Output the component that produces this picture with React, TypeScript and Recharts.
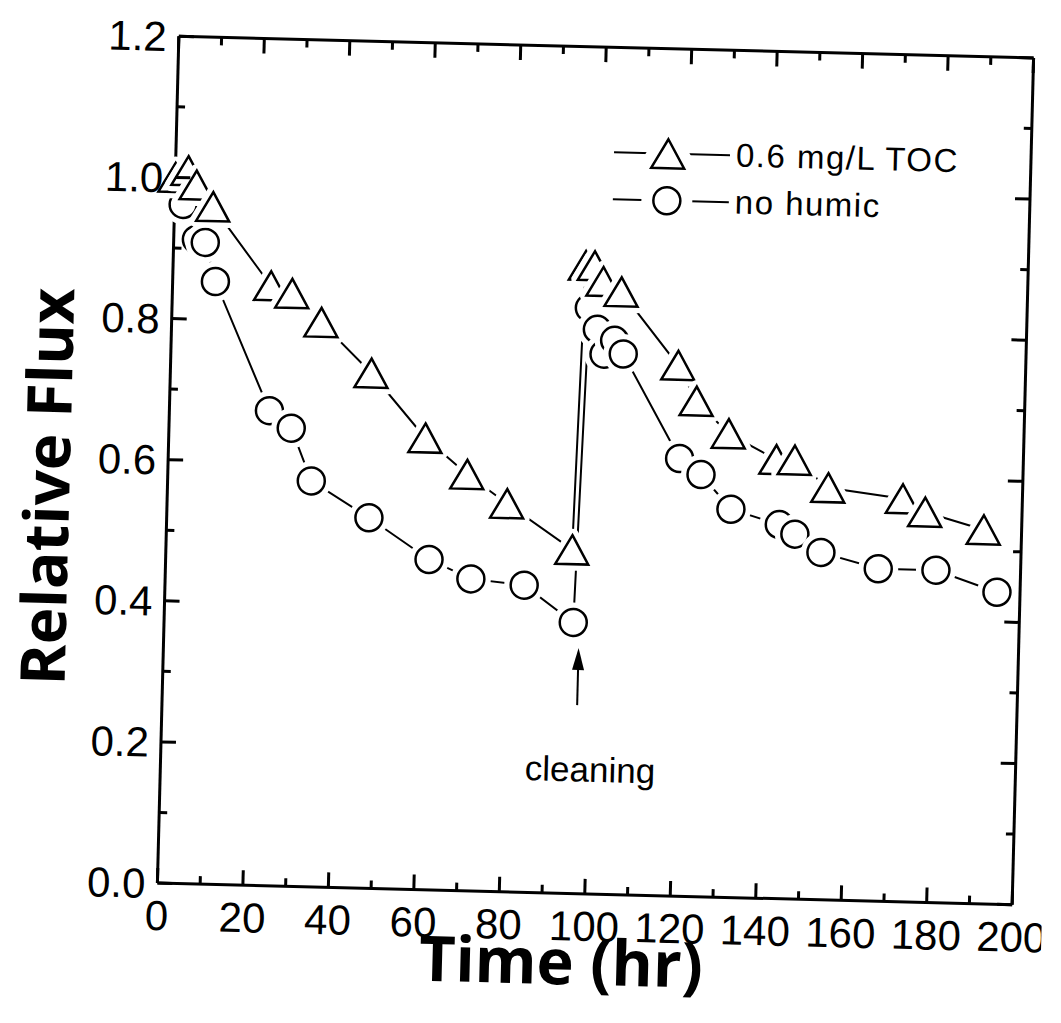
import { LineChart, Line, XAxis, YAxis, Legend, ReferenceLine, ReferenceDot } from "recharts";

// time (hr) and relative flux
const tocHours = [0, 3, 5, 9, 23, 28, 35, 47, 60, 70, 79.5, 95, 96.5, 98.6, 100.7, 105, 118.7, 123.2, 130.9, 142.2, 146.5, 154.5, 172, 177.3, 191.1];
const tocFlux = [1.0, 1.01, 0.99, 0.96, 0.85, 0.84, 0.8, 0.73, 0.64, 0.59, 0.55, 0.487, 0.89, 0.89, 0.868, 0.854, 0.752, 0.702, 0.657, 0.622, 0.622, 0.584, 0.571, 0.553, 0.53];

const noHumicHours = [0, 2, 5.3, 7.4, 10, 23.4, 28.6, 33.6, 47.3, 61.6, 71.5, 84, 95.7, 97.6, 99.6, 101.3, 103.7, 105.8, 119.6, 124.7, 131.9, 143.3, 147, 153.2, 166.7, 180.2, 194.6];
const noHumicFlux = [0.99, 0.962, 0.913, 0.909, 0.854, 0.673, 0.649, 0.575, 0.525, 0.468, 0.442, 0.435, 0.384, 0.83, 0.8, 0.765, 0.785, 0.766, 0.62, 0.598, 0.55, 0.53, 0.517, 0.492, 0.471, 0.471, 0.442];

const seriesNames = ["0.6 mg/L TOC", "no humic"];

const xTicks = [0, 10, 20, 30, 40, 50, 60, 70, 80, 90, 100, 110, 120, 130, 140, 150, 160, 170, 180, 190, 200];
const xLabelTicks = [0, 20, 40, 60, 80, 100, 120, 140, 160, 180, 200];
const yTicks = [0, 0.1, 0.2, 0.3, 0.4, 0.5, 0.6, 0.7, 0.8, 0.9, 1.0, 1.1, 1.2];
const yLabelTicks = [0, 0.2, 0.4, 0.6, 0.8, 1.0, 1.2];

// cleaning arrow (from, to) and its caption, in data units
const cleaningArrow = [
  { t: 97.1, flux: 0.267 },
  { t: 97.1, flux: 0.348 },
];
const cleaningLabel = { t: 100.5, flux: 0.176, text: "cleaning" };

const tocData = tocHours.map((t, i) => ({ t, flux: tocFlux[i] }));
const noHumicData = noHumicHours.map((t, i) => ({ t, flux: noHumicFlux[i] }));

const FONT = '"Liberation Sans", Arial, sans-serif';
const TITLE_FONT = '"Open Sans", Lato, sans-serif';

const isXMajor = (v: number) => xLabelTicks.includes(v);
const isYMajor = (v: number) => yLabelTicks.some((m) => Math.abs(m - v) < 1e-6);

function trianglePath(cx: number, cy: number) {
  return `M${cx},${cy - 14.5} L${cx + 16.5},${cy + 14.5} L${cx - 16.5},${cy + 14.5} Z`;
}

function TriangleMark({ cx, cy, halo = 13 }: { cx: number; cy: number; halo?: number }) {
  const d = trianglePath(cx, cy);
  return (
    <g>
      <path d={d} fill="#fff" stroke="#fff" strokeWidth={halo} strokeLinejoin="round" />
      <path d={d} fill="#fff" stroke="#000" strokeWidth={2.5} />
    </g>
  );
}

function CircleMark({ cx, cy, halo = 13 }: { cx: number; cy: number; halo?: number }) {
  return (
    <g>
      <circle cx={cx} cy={cy} r={13.5} fill="#fff" stroke="#fff" strokeWidth={halo} />
      <circle cx={cx} cy={cy} r={13.5} fill="#fff" stroke="#000" strokeWidth={2.5} />
    </g>
  );
}

function BottomTick(props: any) {
  const { x, y, payload } = props;
  const major = isXMajor(payload.value);
  return (
    <g>
      <line x1={x} y1={y} x2={x} y2={y - (major ? 15 : 8)} stroke="#000" strokeWidth={3} />
      {major && (
        <text x={x} y={y + 47} textAnchor="middle" fontSize={42} fontFamily={FONT} fill="#000">
          {payload.value}
        </text>
      )}
    </g>
  );
}

function TopTick(props: any) {
  const { x, y, payload } = props;
  const major = isXMajor(payload.value);
  return <line x1={x} y1={y} x2={x} y2={y + (major ? 15 : 8)} stroke="#000" strokeWidth={3} />;
}

function LeftTick(props: any) {
  const { x, y, payload } = props;
  const major = isYMajor(payload.value);
  return (
    <g>
      <line x1={x} y1={y} x2={x + (major ? 15 : 8)} y2={y} stroke="#000" strokeWidth={3} />
      {major && (
        <text x={x - 12} y={y + 15} textAnchor="end" fontSize={42} fontFamily={FONT} fill="#000">
          {payload.value.toFixed(1)}
        </text>
      )}
    </g>
  );
}

function RightTick(props: any) {
  const { x, y, payload } = props;
  const major = isYMajor(payload.value);
  return <line x1={x} y1={y} x2={x - (major ? 15 : 8)} y2={y} stroke="#000" strokeWidth={3} />;
}

function ArrowShape(props: any) {
  const { x1, y1, x2, y2 } = props;
  const tipY = Math.min(y1, y2);
  const baseY = Math.max(y1, y2);
  return (
    <g>
      <line x1={x1} y1={baseY} x2={x2} y2={tipY + 14} stroke="#000" strokeWidth={2} />
      <path d={`M${x2},${tipY} L${x2 + 6},${tipY + 22} L${x2 - 6},${tipY + 22} Z`} fill="#000" />
    </g>
  );
}

function LegendContent() {
  const rows = [
    { name: seriesNames[0], mark: "triangle" },
    { name: seriesNames[1], mark: "circle" },
  ];
  return (
    <div style={{ fontFamily: FONT }}>
      {rows.map((r) => (
        <div key={r.name} style={{ display: "flex", alignItems: "center", height: 47 }}>
          <svg width={120} height={40}>
            <line x1={2} y1={20} x2={118} y2={20} stroke="#000" strokeWidth={2} />
            {r.mark === "triangle" ? (
              <TriangleMark cx={56} cy={20} halo={24} />
            ) : (
              <CircleMark cx={56} cy={20} halo={24} />
            )}
          </svg>
          <span style={{ fontSize: 33, letterSpacing: 1.5, marginLeft: 4, color: "#000" }}>{r.name}</span>
        </div>
      ))}
    </div>
  );
}

export default function App() {
  return (
    <div
      style={{
        width: 1053,
        height: 1008,
        margin: "-8px 0 0 -8px",
        transform: "rotate(1.45deg)",
        transformOrigin: "595.75px 470.25px",
        fontFamily: FONT,
        background: "#fff",
      }}
    >
      <LineChart width={1053} height={1008} margin={{ top: 46, right: 29, bottom: 0, left: 0 }}>
        <XAxis
          xAxisId="main"
          dataKey="t"
          type="number"
          domain={[0, 200]}
          ticks={xTicks}
          interval={0}
          height={114}
          tickSize={0}
          tickMargin={0}
          tickLine={false}
          axisLine={{ stroke: "#000", strokeWidth: 3 }}
          tick={<BottomTick />}
          label={(p: any) => {
            const vb = p.viewBox;
            return (
              <text
                x={vb.x + vb.width / 2 - 22}
                y={vb.y + 91}
                textAnchor="middle"
                fontFamily={TITLE_FONT}
                fontWeight={700}
                fontSize={63}
                fill="#000"
              >
                Time (hr)
              </text>
            );
          }}
        />
        <XAxis
          xAxisId="top"
          orientation="top"
          dataKey="t"
          type="number"
          domain={[0, 200]}
          ticks={xTicks}
          interval={0}
          height={1}
          tickSize={0}
          tickMargin={0}
          tickLine={false}
          axisLine={{ stroke: "#000", strokeWidth: 3 }}
          tick={<TopTick />}
        />
        <YAxis
          yAxisId="main"
          type="number"
          domain={[0, 1.2]}
          ticks={yTicks}
          interval={0}
          width={168}
          tickSize={0}
          tickMargin={0}
          tickLine={false}
          axisLine={{ stroke: "#000", strokeWidth: 3 }}
          tick={<LeftTick />}
          label={(p: any) => {
            const vb = p.viewBox;
            const cx = vb.x + 70;
            const cy = vb.y + vb.height / 2 + 30;
            return (
              <text
                x={cx}
                y={cy}
                textAnchor="middle"
                transform={`rotate(-90, ${cx}, ${cy})`}
                fontFamily={TITLE_FONT}
                fontWeight={700}
                fontSize={62}
                fill="#000"
              >
                Relative Flux
              </text>
            );
          }}
        />
        <YAxis
          yAxisId="right"
          orientation="right"
          type="number"
          domain={[0, 1.2]}
          ticks={yTicks}
          interval={0}
          width={1}
          tickSize={0}
          tickMargin={0}
          tickLine={false}
          axisLine={{ stroke: "#000", strokeWidth: 3 }}
          tick={<RightTick />}
        />
        <Legend
          layout="vertical"
          align="center"
          verticalAlign="middle"
          content={<LegendContent />}
          wrapperStyle={{ position: "absolute", left: 604, top: 128, width: 440 }}
        />
        <ReferenceLine
          xAxisId="main"
          yAxisId="main"
          segment={cleaningArrow.map((p) => ({ x: p.t, y: p.flux }))}
          shape={<ArrowShape />}
        />
        <ReferenceDot
          xAxisId="main"
          yAxisId="main"
          x={cleaningLabel.t}
          y={cleaningLabel.flux}
          shape={(p: any) => (
            <text x={p.cx} y={p.cy + 12} textAnchor="middle" fontSize={35} fontFamily={FONT} fill="#000">
              {cleaningLabel.text}
            </text>
          )}
        />
        {/* same scales as the main axes; this series carries the mirrored top/right frame */}
        <Line
          xAxisId="top"
          yAxisId="right"
          data={noHumicData}
          dataKey="flux"
          name={seriesNames[1]}
          type="linear"
          stroke="#000"
          strokeWidth={2}
          isAnimationActive={false}
          activeDot={false}
          dot={(p: any) => <CircleMark key={`c-${p.index}`} cx={p.cx} cy={p.cy} />}
        />
        <Line
          xAxisId="main"
          yAxisId="main"
          data={tocData}
          dataKey="flux"
          name={seriesNames[0]}
          type="linear"
          stroke="#000"
          strokeWidth={2}
          isAnimationActive={false}
          activeDot={false}
          dot={(p: any) => <TriangleMark key={`t-${p.index}`} cx={p.cx} cy={p.cy} />}
        />
      </LineChart>
    </div>
  );
}
